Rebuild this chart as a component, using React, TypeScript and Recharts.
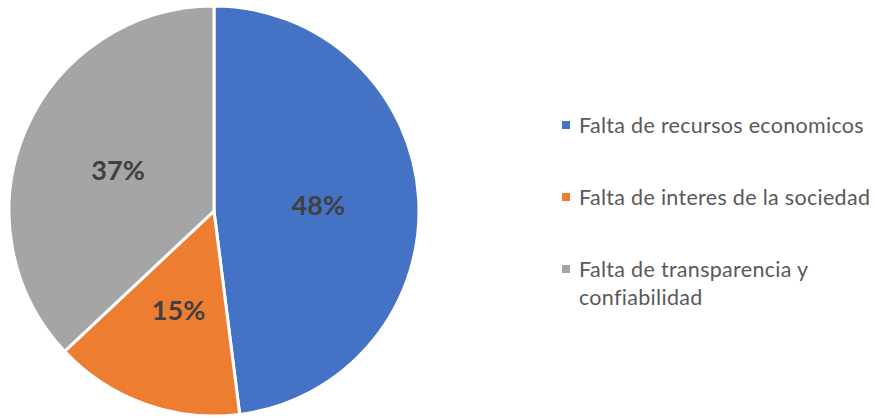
import { PieChart, Pie, Cell, Legend } from "recharts";

const categories = [
  "Falta de recursos economicos",
  "Falta de interes de la sociedad",
  "Falta de transparencia y confiabilidad",
];
const shares = [48, 15, 37];
const colors = ["#4472C4", "#ED7D31", "#A5A5A5"];

const data = categories.map((name, i) => ({ name, value: shares[i] }));

const RADIAN = Math.PI / 180;
const FONT = "Lato, Open Sans, sans-serif";

function renderLabel(props: any) {
  const { cx, cy, midAngle, outerRadius, value } = props;
  const r = outerRadius * 0.51;
  const x = cx + r * Math.cos(-midAngle * RADIAN);
  const y = cy + r * Math.sin(-midAngle * RADIAN);
  return (
    <text
      x={x}
      y={y}
      textAnchor="middle"
      dominantBaseline="central"
      style={{ fontSize: 27, fontWeight: 700, fill: "#404040", fontFamily: FONT }}
    >
      {value}%
    </text>
  );
}

function renderLegend() {
  return (
    <div style={{ fontFamily: FONT, fontSize: 21.5, letterSpacing: 0.3, color: "#595959", width: 315 }}>
      {data.map((d, i) => (
        <div
          key={d.name}
          style={{ display: "flex", alignItems: "flex-start", marginBottom: i < data.length - 1 ? 44 : 0 }}
        >
          <span
            style={{
              display: "inline-block",
              width: 8,
              height: 8,
              background: colors[i],
              marginTop: 10,
              marginRight: 9,
              flexShrink: 0,
            }}
          />
          <span style={{ lineHeight: "28px", width: 298 }}>{d.name}</span>
        </div>
      ))}
    </div>
  );
}

export default function App() {
  return (
    <div style={{ position: "absolute", left: 0, top: 0, background: "#fff" }}>
      <PieChart width={875} height={418} margin={{ top: 0, right: 0, bottom: 0, left: 0 }}>
        <Pie
          data={data}
          dataKey="value"
          nameKey="name"
          cx={214}
          cy={211}
          outerRadius={205}
          startAngle={90}
          endAngle={-270}
          stroke="#fff"
          strokeWidth={3}
          label={renderLabel}
          labelLine={false}
          isAnimationActive={false}
        >
          {data.map((d, i) => (
            <Cell key={d.name} fill={colors[i]} />
          ))}
        </Pie>
        <Legend
          content={renderLegend}
          wrapperStyle={{ left: 562, top: 111, width: 315 }}
        />
      </PieChart>
    </div>
  );
}
